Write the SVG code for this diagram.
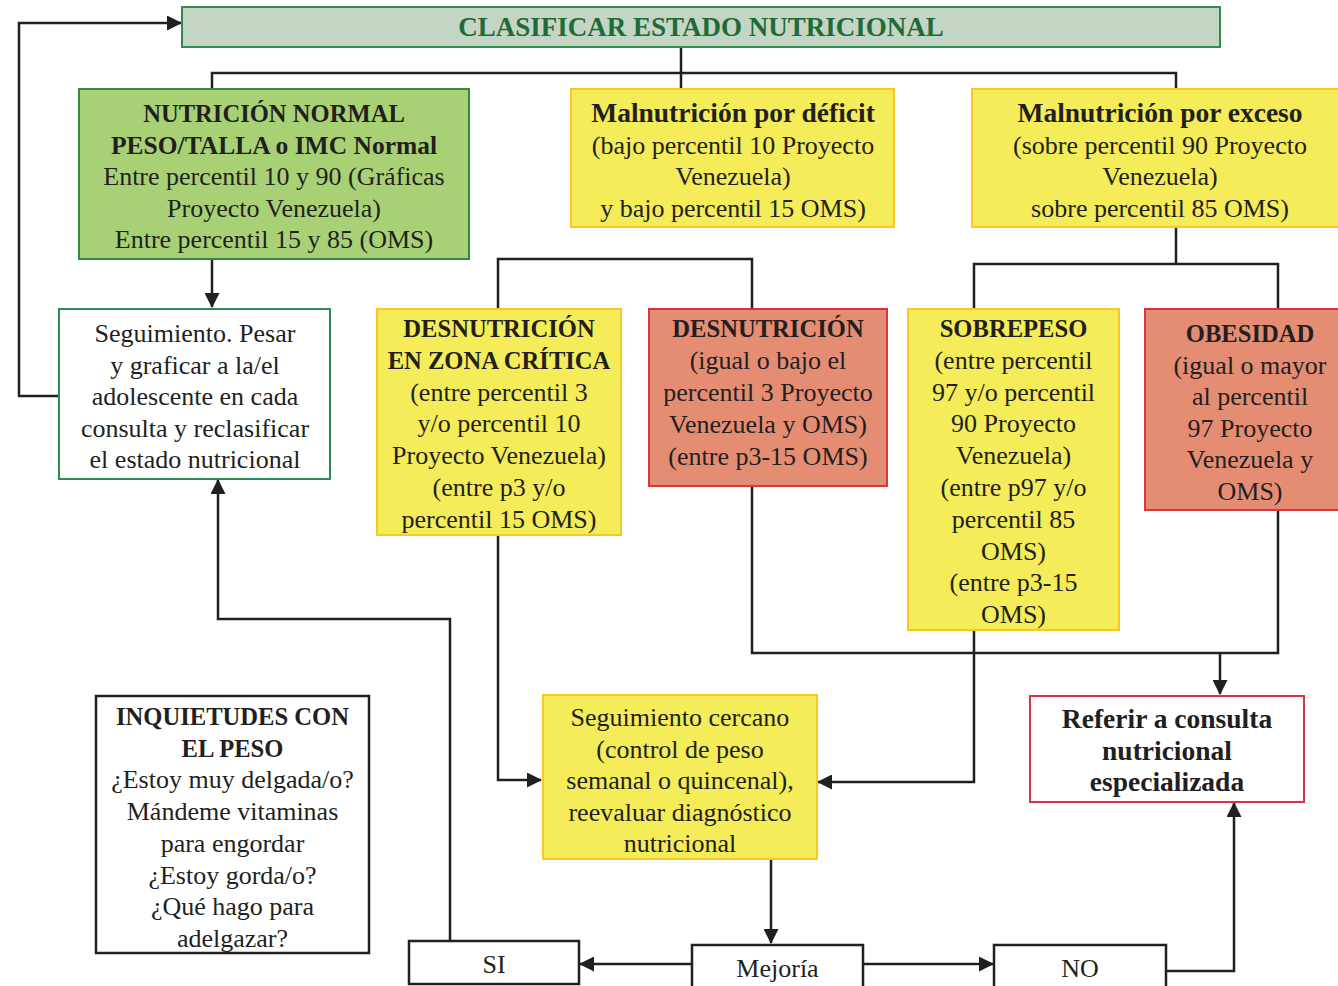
<svg xmlns="http://www.w3.org/2000/svg" width="1338" height="986" viewBox="0 0 1338 986">
<style>
text{font-family:"Liberation Serif","Times New Roman",serif;font-size:26px;fill:#231f20;text-anchor:middle}
.b{font-weight:bold;font-size:24.6px}
.bm{font-weight:bold;font-size:25.5px}
.bl{font-weight:bold;font-size:27.5px}
.title{font-weight:bold;font-size:27px;fill:#1e6b3a}
.green{fill:#a8d176;stroke:#2e8b3f;stroke-width:2}
.yellow{fill:#f4ec58;stroke:#f9c623;stroke-width:2}
.red{fill:#e48d73;stroke:#d8353f;stroke-width:2}
.wg{fill:#fff;stroke:#2e8b57;stroke-width:2}
.wr{fill:#fff;stroke:#d8353f;stroke-width:2}
.wk{fill:#fff;stroke:#231f20;stroke-width:2.5}
.c path{fill:none;stroke:#231f20;stroke-width:2.5}
.c path.a{marker-end:url(#ah)}
</style>
<defs>
<marker id="ah" viewBox="0 0 15 15" refX="14" refY="7.5" markerWidth="15" markerHeight="15" markerUnits="userSpaceOnUse" orient="auto">
<path d="M0,0 L15,7.5 L0,15 Z" fill="#231f20"/>
</marker>
</defs>
<rect width="1338" height="986" fill="#fff"/>

<g class="c" id="connectors">
<path d="M681,47 V89"/>
<path d="M212,89 V73 H1176 V89"/>
<path class="a" d="M212,259 V307"/>
<path class="a" d="M59,396 H19 V23 H181"/>
<path d="M498,309 V259 H752 V309"/>
<path d="M1176,227 V264"/>
<path d="M974,309 V264 H1278 V309"/>
<path class="a" d="M498,535 V780 H541"/>
<path d="M752,486 V653 H1278 V510"/>
<path class="a" d="M1220,653 V694"/>
<path class="a" d="M974,630 V782 H818"/>
<path class="a" d="M771,858 V943"/>
<path class="a" d="M692,964 H580"/>
<path class="a" d="M863,964 H993"/>
<path class="a" d="M450,940 V619 H218 V480"/>
<path class="a" d="M1166,971 H1234 V803"/>
</g>

<g id="title">
<rect x="182" y="7" width="1038" height="40" fill="#c5d5c3" stroke="#2f8c4e" stroke-width="2"/>
<text class="title" x="701" y="36">CLASIFICAR ESTADO NUTRICIONAL</text>
</g>

<g id="normal">
<rect class="green" x="79" y="89" width="390" height="170"/>
<text class="b" x="274" y="122">NUTRICIÓN NORMAL</text>
<text class="bm" x="274" y="153.5">PESO/TALLA o IMC Normal</text>
<text x="274" y="185">Entre percentil 10 y 90 (Gráficas</text>
<text x="274" y="216.5">Proyecto Venezuela)</text>
<text x="274" y="248">Entre percentil 15 y 85 (OMS)</text>
</g>

<g id="deficit">
<rect class="yellow" x="571" y="89" width="323" height="138"/>
<text class="bl" x="733" y="122">Malnutrición por déficit</text>
<text x="733" y="153.5">(bajo percentil 10 Proyecto</text>
<text x="733" y="185">Venezuela)</text>
<text x="733" y="216.5">y bajo percentil 15 OMS)</text>
</g>

<g id="exceso">
<rect class="yellow" x="972" y="89" width="380" height="138"/>
<text class="bl" x="1160" y="122">Malnutrición por exceso</text>
<text x="1160" y="153.5">(sobre percentil 90 Proyecto</text>
<text x="1160" y="185">Venezuela)</text>
<text x="1160" y="216.5">sobre percentil 85 OMS)</text>
</g>

<g id="seguimiento">
<rect class="wg" x="59" y="309" width="271" height="170"/>
<text x="195" y="342">Seguimiento. Pesar</text>
<text x="195" y="373.5">y graficar a la/el</text>
<text x="195" y="405">adolescente en cada</text>
<text x="195" y="436.5">consulta y reclasificar</text>
<text x="195" y="468">el estado nutricional</text>
</g>

<g id="zona-critica">
<rect class="yellow" x="377" y="309" width="244" height="226"/>
<text class="b" x="499" y="337">DESNUTRICIÓN</text>
<text class="b" x="499" y="368.8">EN ZONA CRÍTICA</text>
<text x="499" y="400.6">(entre percentil 3</text>
<text x="499" y="432.4">y/o percentil 10</text>
<text x="499" y="464.2">Proyecto Venezuela)</text>
<text x="499" y="496">(entre p3 y/o</text>
<text x="499" y="527.8">percentil 15 OMS)</text>
</g>

<g id="desnutricion">
<rect class="red" x="649" y="309" width="238" height="177"/>
<text class="b" x="768" y="337">DESNUTRICIÓN</text>
<text x="768" y="369">(igual o bajo el</text>
<text x="768" y="401">percentil 3 Proyecto</text>
<text x="768" y="433">Venezuela y OMS)</text>
<text x="768" y="465">(entre p3-15 OMS)</text>
</g>

<g id="sobrepeso">
<rect class="yellow" x="908" y="309" width="211" height="321"/>
<text class="b" x="1013.5" y="337">SOBREPESO</text>
<text x="1013.5" y="368.8">(entre percentil</text>
<text x="1013.5" y="400.6">97 y/o percentil</text>
<text x="1013.5" y="432.4">90 Proyecto</text>
<text x="1013.5" y="464.2">Venezuela)</text>
<text x="1013.5" y="496">(entre p97 y/o</text>
<text x="1013.5" y="527.8">percentil 85</text>
<text x="1013.5" y="559.6">OMS)</text>
<text x="1013.5" y="591.4">(entre p3-15</text>
<text x="1013.5" y="623.2">OMS)</text>
</g>

<g id="obesidad">
<rect class="red" x="1145" y="309" width="210" height="201"/>
<text class="b" x="1250" y="342">OBESIDAD</text>
<text x="1250" y="373.6">(igual o mayor</text>
<text x="1250" y="405.2">al percentil</text>
<text x="1250" y="436.8">97 Proyecto</text>
<text x="1250" y="468.4">Venezuela y</text>
<text x="1250" y="500">OMS)</text>
</g>

<g id="cercano">
<rect class="yellow" x="543" y="695" width="274" height="164"/>
<text x="680" y="726">Seguimiento cercano</text>
<text x="680" y="757.5">(control de peso</text>
<text x="680" y="789">semanal o quincenal),</text>
<text x="680" y="820.5">reevaluar diagnóstico</text>
<text x="680" y="852">nutricional</text>
</g>

<g id="referir">
<rect class="wr" x="1030" y="696" width="274" height="106"/>
<text class="bl" x="1167" y="728">Referir a consulta</text>
<text class="bl" x="1167" y="759.5">nutricional</text>
<text class="bl" x="1167" y="791">especializada</text>
</g>

<g id="inquietudes">
<rect class="wk" x="96" y="696" width="273" height="257"/>
<text class="b" x="232.5" y="725">INQUIETUDES CON</text>
<text class="b" x="232.5" y="756.7">EL PESO</text>
<text x="232.5" y="788.4">¿Estoy muy delgada/o?</text>
<text x="232.5" y="820.1">Mándeme vitaminas</text>
<text x="232.5" y="851.8">para engordar</text>
<text x="232.5" y="883.5">¿Estoy gorda/o?</text>
<text x="232.5" y="915.2">¿Qué hago para</text>
<text x="232.5" y="947">adelgazar?</text>
</g>

<g id="si">
<rect class="wk" x="409" y="941" width="170" height="43"/>
<text x="494" y="973">SI</text>
</g>

<g id="mejoria">
<rect class="wk" x="692" y="945" width="171" height="50"/>
<text x="777.5" y="977">Mejoría</text>
</g>

<g id="no">
<rect class="wk" x="994" y="945" width="172" height="50"/>
<text x="1080" y="977">NO</text>
</g>
</svg>
